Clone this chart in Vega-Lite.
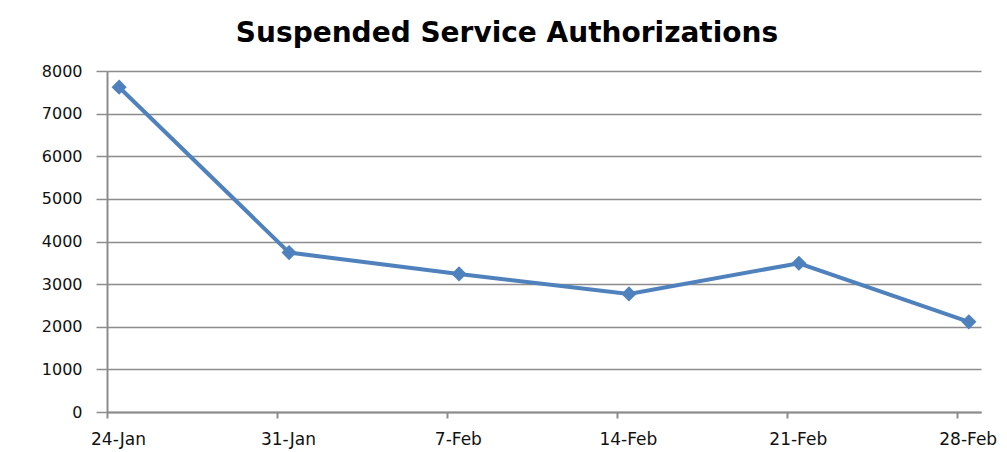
{
  "$schema": "https://vega.github.io/schema/vega-lite/v6.json",
  "autosize": "none",
  "width": 874,
  "height": 341,
  "padding": {"left": 107, "top": 71, "right": 26, "bottom": 40},
  "background": "white",
  "config": {"view": {"stroke": null}},
  "title": {
    "text": "Suspended Service Authorizations",
    "font": "DejaVu Sans",
    "fontWeight": "bold",
    "fontSize": 28,
    "color": "#000000",
    "anchor": "middle",
    "dx": -37,
    "baseline": "alphabetic",
    "offset": -7
  },
  "data": {
    "values": [
      {"week": "2010-01-24T12:00:00", "count": 7620},
      {"week": "2010-01-31T12:00:00", "count": 3740},
      {"week": "2010-02-07T12:00:00", "count": 3240},
      {"week": "2010-02-14T12:00:00", "count": 2770},
      {"week": "2010-02-21T12:00:00", "count": 3490},
      {"week": "2010-02-28T12:00:00", "count": 2115}
    ]
  },
  "mark": {
    "type": "line",
    "color": "#4F81BD",
    "strokeWidth": 4,
    "point": {"shape": "diamond", "size": 230, "filled": true, "color": "#4F81BD"}
  },
  "encoding": {
    "x": {
      "field": "week",
      "type": "temporal",
      "scale": {
        "domain": [
          {"year": 2010, "month": "jan", "date": 24},
          {"year": 2010, "month": "mar", "date": 1}
        ]
      },
      "axis": {
        "title": null,
        "values": [
          {"year": 2010, "month": "jan", "date": 24},
          {"year": 2010, "month": "jan", "date": 31},
          {"year": 2010, "month": "feb", "date": 7},
          {"year": 2010, "month": "feb", "date": 14},
          {"year": 2010, "month": "feb", "date": 21},
          {"year": 2010, "month": "feb", "date": 28}
        ],
        "format": "%-d-%b",
        "grid": false,
        "domainColor": "#8c8c8c",
        "domainWidth": 2,
        "tickColor": "#8c8c8c",
        "tickWidth": 2,
        "tickSize": 6,
        "labelOffset": 11,
        "labelPadding": 13,
        "labelFont": "DejaVu Sans",
        "labelFontSize": 17,
        "labelColor": "#111111",
        "labelFlush": false,
        "labelOverlap": false
      }
    },
    "y": {
      "field": "count",
      "type": "quantitative",
      "scale": {"domain": [0, 8000], "nice": false},
      "axis": {
        "title": null,
        "values": [0, 1000, 2000, 3000, 4000, 5000, 6000, 7000, 8000],
        "format": "d",
        "grid": true,
        "gridColor": "#8c8c8c",
        "gridWidth": 1.5,
        "domainColor": "#8c8c8c",
        "domainWidth": 2,
        "tickColor": "#8c8c8c",
        "tickWidth": 1.5,
        "tickSize": 11,
        "labelPadding": 14,
        "labelFont": "DejaVu Sans",
        "labelFontSize": 16,
        "labelColor": "#111111"
      }
    }
  }
}
